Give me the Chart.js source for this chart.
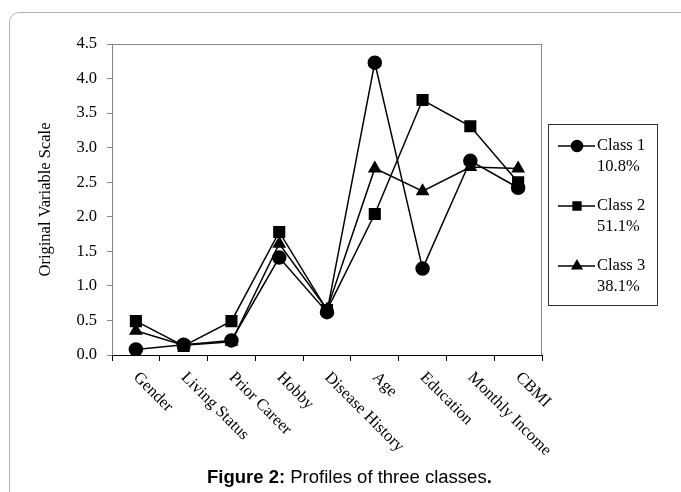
<!DOCTYPE html>
<html>
<head>
<meta charset="utf-8">
<script src="https://cdn.jsdelivr.net/npm/chart.js@4.4.1/dist/chart.umd.min.js"></script>
<style>
  body { margin: 0; background: #fff; width: 681px; height: 492px; overflow: hidden; position: relative; }
  #frame { position: absolute; left: 9px; top: 12px; width: 720px; height: 520px; border: 1px solid #b4b4b4; border-radius: 10px; }
  #wrap { position: absolute; left: 0; top: 0; width: 681px; height: 492px; }
  #caption { position: absolute; left: 207px; top: 468px; font: 18.5px/1 "Liberation Sans", Arial, sans-serif; color: #000; white-space: nowrap; }
</style>
</head>
<body>
<div id="frame"></div>
<div id="wrap"><canvas id="profileChart" width="681" height="492"></canvas></div>
<div id="caption"><b>Figure 2:</b> Profiles of three classes<b>.</b></div>
<script>
// Profiles of three latent classes

const categories = ['Gender', 'Living Status', 'Prior Career', 'Hobby', 'Disease History', 'Age', 'Education', 'Monthly Income', 'CBMI'];
const class1 = [0.08, 0.15, 0.21, 1.41, 0.62, 4.23, 1.25, 2.81, 2.42];
const class2 = [0.49, 0.13, 0.49, 1.78, 0.65, 2.04, 3.69, 3.31, 2.50];
const class3 = [0.35, 0.14, 0.19, 1.61, 0.66, 2.70, 2.37, 2.72, 2.70];
const seriesNames = ['Class 1', 'Class 2', 'Class 3'];
const seriesShares = ['10.8%', '51.1%', '38.1%'];
const pointStyles = ['circle', 'rect', 'triangle'];

const serif = '"Liberation Serif", "Times New Roman", serif';

// frame, rotated category labels and the boxed legend
const extras = {
    id: 'extras',
    beforeDatasetsDraw(chart) {
        const a = chart.chartArea;
        const ctx = chart.ctx;
        ctx.save();
        ctx.strokeStyle = '#868686';
        ctx.lineWidth = 1;
        ctx.strokeRect(a.left + 0.5, a.top + 0.5, a.right - a.left - 1, a.bottom - a.top);
        ctx.strokeStyle = '#000';
        ctx.beginPath();
        ctx.moveTo(a.left, a.bottom + 0.5);
        ctx.lineTo(a.right, a.bottom + 0.5);
        ctx.stroke();
        ctx.restore();
    },
    afterDraw(chart) {
        const ctx = chart.ctx;
        const xs = chart.scales.x;
        ctx.save();
        ctx.fillStyle = '#000';
        ctx.font = '16.5px ' + serif;
        ctx.textAlign = 'left';
        ctx.textBaseline = 'middle';
        categories.forEach((c, i) => {
            const x = xs.getPixelForValue(i);
            ctx.save();
            ctx.translate(x, 375);
            ctx.rotate(Math.PI / 4);
            ctx.fillText(c, 0, 0);
            ctx.restore();
        });

        // legend box
        ctx.strokeStyle = '#333';
        ctx.lineWidth = 1;
        ctx.strokeRect(548.5, 124.5, 109, 181);
        const rows = [146, 206, 266];
        seriesNames.forEach((name, i) => {
            const y = rows[i];
            ctx.strokeStyle = '#000';
            ctx.lineWidth = 1.5;
            ctx.beginPath();
            ctx.moveTo(558, y);
            ctx.lineTo(595, y);
            ctx.stroke();
            Chart.helpers.drawPoint(ctx, {
                pointStyle: pointStyles[i],
                radius: i === 0 ? 5.5 : 5.5,
                rotation: 0,
                borderWidth: 1
            }, 577, y);
            ctx.fill();
            ctx.fillStyle = '#000';
            ctx.fillText(name, 597, y);
            ctx.fillText(seriesShares[i], 597, y + 20.5);
        });
        ctx.restore();
    }
};

function makeSet(label, data, style, radius, order) {
    return {
        label: label,
        data: data,
        pointStyle: style,
        pointRadius: radius,
        pointHoverRadius: radius,
        borderColor: '#000',
        backgroundColor: '#000',
        pointBackgroundColor: '#000',
        borderWidth: 1.5,
        tension: 0,
        order: order
    };
}

new Chart(document.getElementById('profileChart'), {
    type: 'line',
    data: {
        labels: categories,
        datasets: [
            makeSet(seriesNames[0], class1, 'circle', 6.5, 3),
            makeSet(seriesNames[1], class2, 'rect', 7.5, 2),
            makeSet(seriesNames[2], class3, 'triangle', 6.5, 1)
        ]
    },
    options: {
        responsive: false,
        animation: false,
        layout: {
            padding: { top: 44, right: 139, left: 0, bottom: 0 }
        },
        plugins: {
            legend: { display: false },
            tooltip: { enabled: false }
        },
        scales: {
            x: {
                offset: true,
                afterFit(scale) { scale.height = 137; },
                ticks: { display: false },
                grid: {
                    offset: true,
                    drawOnChartArea: false,
                    drawTicks: true,
                    tickLength: 6,
                    color: '#000'
                },
                border: { display: false }
            },
            y: {
                min: 0,
                max: 4.5,
                afterFit(scale) { scale.width = 112; },
                ticks: {
                    stepSize: 0.5,
                    padding: 10,
                    color: '#000',
                    font: { family: serif, size: 16.5 },
                    callback: v => v.toFixed(1)
                },
                grid: {
                    drawOnChartArea: false,
                    drawTicks: true,
                    tickLength: 5,
                    color: '#868686'
                },
                border: { display: false },
                title: {
                    display: true,
                    text: 'Original Variable Scale',
                    color: '#000',
                    font: { family: serif, size: 16.5 },
                    padding: { top: 36, bottom: 0 }
                }
            }
        }
    },
    plugins: [extras]
});
</script>
</body>
</html>
